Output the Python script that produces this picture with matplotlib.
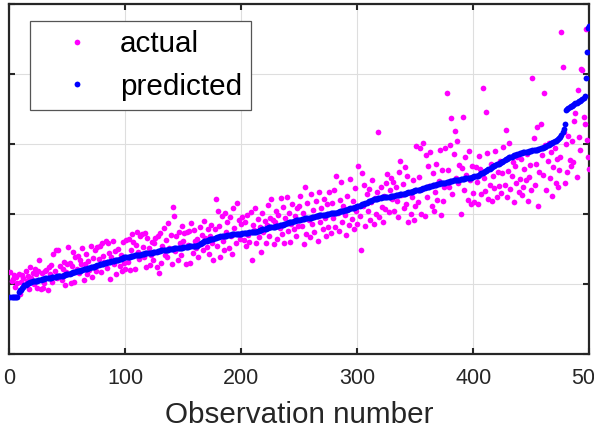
import matplotlib
matplotlib.use("Agg")
import matplotlib.pyplot as plt
import numpy as np

plt.rcParams['font.family'] = ['Liberation Sans', 'DejaVu Sans']

# ---------------- data ----------------
predicted = [
    8.1,8.1,8.1,8.1,8.1,8.2,8.2,8.9,9.1,9.2,9.4,9.6,9.8,9.9,10.0,10.1,10.2,10.3,10.3,10.4,10.4,10.5,10.5,10.5,10.6,
    10.6,10.6,10.7,10.7,10.7,10.8,10.8,10.8,10.9,10.9,10.9,11.0,11.0,11.0,11.0,11.1,11.1,11.1,11.1,11.2,11.2,11.3,11.3,11.4,11.4,
    11.5,11.5,11.6,11.6,11.7,11.7,11.7,11.8,11.8,11.9,11.9,12.0,12.0,12.1,12.1,12.2,12.2,12.3,12.3,12.4,12.4,12.5,12.5,12.6,12.6,
    12.7,12.7,12.8,12.8,12.9,12.9,13.0,13.0,13.1,13.1,13.2,13.2,13.3,13.3,13.3,13.4,13.4,13.5,13.5,13.6,13.6,13.7,13.7,13.8,13.8,
    13.8,13.9,13.9,13.9,14.0,14.0,14.0,14.1,14.1,14.1,14.2,14.2,14.2,14.3,14.3,14.3,14.4,14.4,14.4,14.5,14.5,14.5,14.5,14.6,14.6,
    14.6,14.6,14.7,14.7,14.7,14.8,14.8,14.8,14.9,14.9,14.9,14.9,15.0,15.0,15.0,15.0,15.1,15.1,15.1,15.1,15.2,15.2,15.2,15.2,15.3,
    15.3,15.3,15.3,15.3,15.4,15.4,15.4,15.4,15.4,15.4,15.5,15.5,15.6,15.7,15.8,15.9,16.0,16.1,16.2,16.2,16.3,16.3,16.4,16.4,16.5,
    16.5,16.6,16.6,16.7,16.7,16.7,16.8,16.8,16.8,16.9,16.9,16.9,17.0,17.0,17.0,17.0,17.1,17.1,17.1,17.1,17.2,17.2,17.2,17.2,17.2,
    17.3,17.3,17.3,17.3,17.3,17.3,17.4,17.4,17.4,17.4,17.5,17.5,17.5,17.6,17.6,17.7,17.7,17.8,17.8,17.9,17.9,18.0,18.0,18.1,18.1,
    18.1,18.2,18.2,18.2,18.3,18.3,18.3,18.4,18.4,18.5,18.5,18.6,18.6,18.7,18.7,18.8,18.8,18.9,18.9,19.0,19.0,19.1,19.1,19.1,19.2,
    19.2,19.3,19.3,19.3,19.4,19.4,19.4,19.5,19.5,19.5,19.6,19.6,19.6,19.7,19.7,19.7,19.8,19.8,19.8,19.8,19.9,19.9,19.9,20.0,20.0,
    20.0,20.1,20.1,20.1,20.2,20.2,20.2,20.3,20.3,20.4,20.4,20.5,20.5,20.6,20.6,20.6,20.7,20.7,20.8,20.8,20.9,20.9,21.0,21.0,21.1,
    21.2,21.2,21.3,21.4,21.4,21.5,21.6,21.6,21.7,21.8,21.8,21.9,22.0,22.1,22.1,22.2,22.2,22.3,22.3,22.3,22.4,22.4,22.4,22.4,22.5,
    22.5,22.5,22.5,22.6,22.6,22.6,22.6,22.7,22.7,22.7,22.7,22.8,22.8,22.8,22.9,22.9,23.0,23.0,23.1,23.1,23.2,23.2,23.3,23.3,23.4,
    23.4,23.5,23.5,23.5,23.6,23.6,23.7,23.7,23.8,23.8,23.9,23.9,24.0,24.0,24.1,24.1,24.2,24.2,24.3,24.3,24.4,24.4,24.4,24.5,24.5,
    24.5,24.6,24.6,24.6,24.7,24.7,24.7,24.8,24.8,24.8,24.9,24.9,24.9,25.0,25.0,25.0,25.0,25.1,25.1,25.1,25.2,25.2,25.2,25.3,25.3,
    25.4,25.4,25.5,25.5,25.6,25.7,25.8,25.9,26.0,26.1,26.2,26.3,26.4,26.5,26.6,26.7,26.8,26.9,27.0,27.1,27.1,27.2,27.3,27.4,27.5,
    27.6,27.7,27.8,27.9,28.0,28.1,28.2,28.2,28.3,28.4,28.5,28.5,28.6,28.6,28.7,28.7,28.7,28.8,28.8,28.8,28.9,28.9,29.0,29.0,29.0,
    29.1,29.1,29.1,29.2,29.2,29.3,29.3,29.4,29.4,29.5,29.6,29.6,29.7,29.8,29.9,30.0,30.1,30.2,30.3,30.4,30.5,30.6,30.7,30.8,31.0,
    31.3,31.7,32.2,32.9,34.9,35.0,35.2,35.3,35.4,35.5,35.6,35.7,35.8,35.9,36.0,36.1,36.2,36.3,36.4,36.6,36.8,39.4,43.1,46.6,46.8,
]

actual = [
    11.7,10.4,10.7,11.3,9.6,11.0,10.2,11.5,8.6,10.3,11.3,10.8,9.9,11.9,10.5,11.1,9.3,12.4,10.9,11.6,10.0,12.1,11.4,9.5,11.8,
    13.4,9.3,11.6,9.4,10.1,11.8,12.0,9.2,12.4,11.5,12.7,10.3,14.3,11.9,14.9,10.8,14.8,11.1,12.6,10.6,12.2,13.1,9.8,11.7,12.9,
    15.3,13.0,10.1,12.6,14.6,10.3,13.8,12.2,14.0,11.6,13.4,12.9,15.2,10.6,12.8,14.3,11.4,13.3,12.0,15.5,11.0,13.7,12.5,14.8,11.9,
    15.3,13.6,15.5,11.7,15.8,14.0,13.2,16.1,12.3,15.9,14.4,10.7,13.8,16.2,12.9,14.7,11.5,13.5,15.0,12.6,14.1,11.9,16.0,13.0,12.2,
    16.3,13.1,16.4,12.0,14.9,17.1,16.0,12.2,15.6,17.4,14.6,13.6,16.8,17.2,15.3,13.9,17.3,12.4,16.6,15.1,12.7,14.2,16.0,13.4,15.8,
    16.6,12.4,16.9,11.6,17.3,13.0,15.4,18.0,14.2,16.3,13.9,18.7,15.1,17.0,12.9,21.0,19.7,14.7,16.8,13.5,17.5,15.8,14.1,18.3,16.2,
    17.3,12.9,17.4,15.6,17.6,13.0,18.7,14.5,17.7,16.1,15.1,16.4,13.8,18.2,15.7,17.0,14.8,19.0,16.6,15.3,17.9,14.3,16.9,18.4,15.9,
    13.4,17.8,22.1,15.5,20.4,18.3,13.9,19.7,16.2,14.9,20.1,17.5,18.9,15.2,19.6,16.8,14.3,20.9,18.0,15.9,21.6,17.1,19.2,16.4,18.6,
    19.6,16.3,18.8,15.4,19.9,17.0,16.0,20.3,13.4,18.5,17.7,20.9,15.8,19.3,16.7,18.1,14.6,20.2,17.4,19.0,15.9,18.4,21.3,16.9,19.5,
    22.1,19.1,15.7,18.9,20.5,16.4,19.9,18.0,22.3,17.2,21.0,15.9,19.4,22.4,17.6,20.2,16.0,18.6,21.5,17.9,19.7,16.8,20.8,18.3,21.2,
    22.6,18.3,20.1,15.7,23.9,17.1,21.6,19.2,16.7,22.9,18.6,20.6,17.4,21.9,19.7,16.2,23.2,18.9,20.9,17.8,22.1,19.4,16.9,21.4,18.1,
    23.1,17.3,21.6,19.5,23.4,18.1,25.4,20.2,17.6,22.0,24.6,18.8,21.1,19.9,17.0,22.6,20.7,18.4,25.0,19.3,21.8,17.9,23.7,20.4,18.6,
    26.9,19.7,14.9,25.9,21.2,24.1,18.3,22.8,20.4,23.6,19.1,21.7,24.8,18.6,22.3,20.0,23.2,31.7,19.6,23.9,21.0,18.9,22.6,20.7,24.4,
    25.7,20.3,23.4,25.2,22.1,24.6,20.5,23.9,21.8,19.6,26.0,27.6,22.7,24.3,20.9,26.7,21.4,25.5,18.9,23.0,20.0,22.4,24.9,19.2,21.1,
    29.7,21.7,25.3,29.4,20.0,23.6,30.1,19.7,28.4,22.5,26.8,24.0,28.8,21.1,25.9,20.5,23.2,27.1,22.0,24.7,29.1,19.9,26.3,21.8,23.9,
    29.4,37.3,26.3,23.9,29.8,33.7,22.9,28.6,31.9,25.2,30.4,24.4,27.0,20.0,26.6,33.9,23.4,28.1,25.6,22.0,29.0,24.8,21.4,26.9,23.0,
    21.7,26.7,24.6,21.5,28.3,26.4,22.8,38.0,25.1,23.3,34.6,28.7,22.2,24.2,27.2,21.9,25.5,23.7,29.0,22.5,26.0,24.0,27.6,23.0,25.8,
    29.6,24.1,32.0,22.4,26.2,30.1,23.6,25.5,27.4,21.7,26.8,24.5,28.1,23.1,25.0,27.8,22.7,23.9,26.5,24.8,28.6,21.9,25.3,27.0,23.4,
    39.5,30.9,24.1,27.2,32.5,21.1,26.0,32.8,28.4,25.6,37.3,29.8,23.4,27.6,30.2,25.1,28.9,22.6,26.7,29.4,24.5,27.9,23.8,26.3,28.1,
    46.0,41.0,31.7,24.4,30.0,26.0,31.2,27.7,26.9,30.5,27.4,33.3,34.4,25.3,37.7,31.0,29.2,40.7,40.6,33.8,32.9,46.5,30.6,28.2,26.4,
]

observation = np.arange(1, len(predicted) + 1)
x_ticks = [0, 100, 200, 300, 400, 500]
y_ticks = [0, 10, 20, 30, 40, 50]
series_labels = ['actual', 'predicted']

# ---------------- figure ----------------
W, H = 594, 434
fig = plt.figure(figsize=(W / 100, H / 100), dpi=100)
ax = fig.add_axes([9.3 / W, 1 - 354 / H, (589.3 - 9.3) / W, (354 - 4) / H])

dark = '#262626'
ax.plot(observation, actual, 'o', color='#FF00FF', ms=4.1, mew=0, label=series_labels[0], zorder=3)
ax.plot(observation, predicted, 'o', color='#0000FF', ms=4.2, mew=0, label=series_labels[1], zorder=4)

ax.set_xlim(0, 500)
ax.set_ylim(0, 50)
ax.set_xticks(x_ticks)
ax.set_yticks(y_ticks)
ax.grid(True, color='#DEDEDE', linewidth=0.8, zorder=0)
ax.set_axisbelow(True)

for sp in ax.spines.values():
    sp.set_color(dark)
    sp.set_linewidth(1.6)

ax.tick_params(direction='in', length=4.5, width=1.5, top=True, right=True,
               labelleft=False, labelsize=15.5, colors=dark, pad=10)
ax.set_xlabel('Observation number', fontsize=21.3, color=dark, labelpad=9)

leg = ax.legend(loc='upper left', bbox_to_anchor=((30 - 9.3) / 580, (354 - 21) / 350),
                borderaxespad=0, fontsize=21.3, handlelength=2.6, handletextpad=0.15,
                borderpad=0.3, labelspacing=0.5, fancybox=False, framealpha=1,
                edgecolor='#555555', markerscale=1.0)
leg.get_frame().set_linewidth(0.9)

fig.savefig('out.png', dpi=100)
